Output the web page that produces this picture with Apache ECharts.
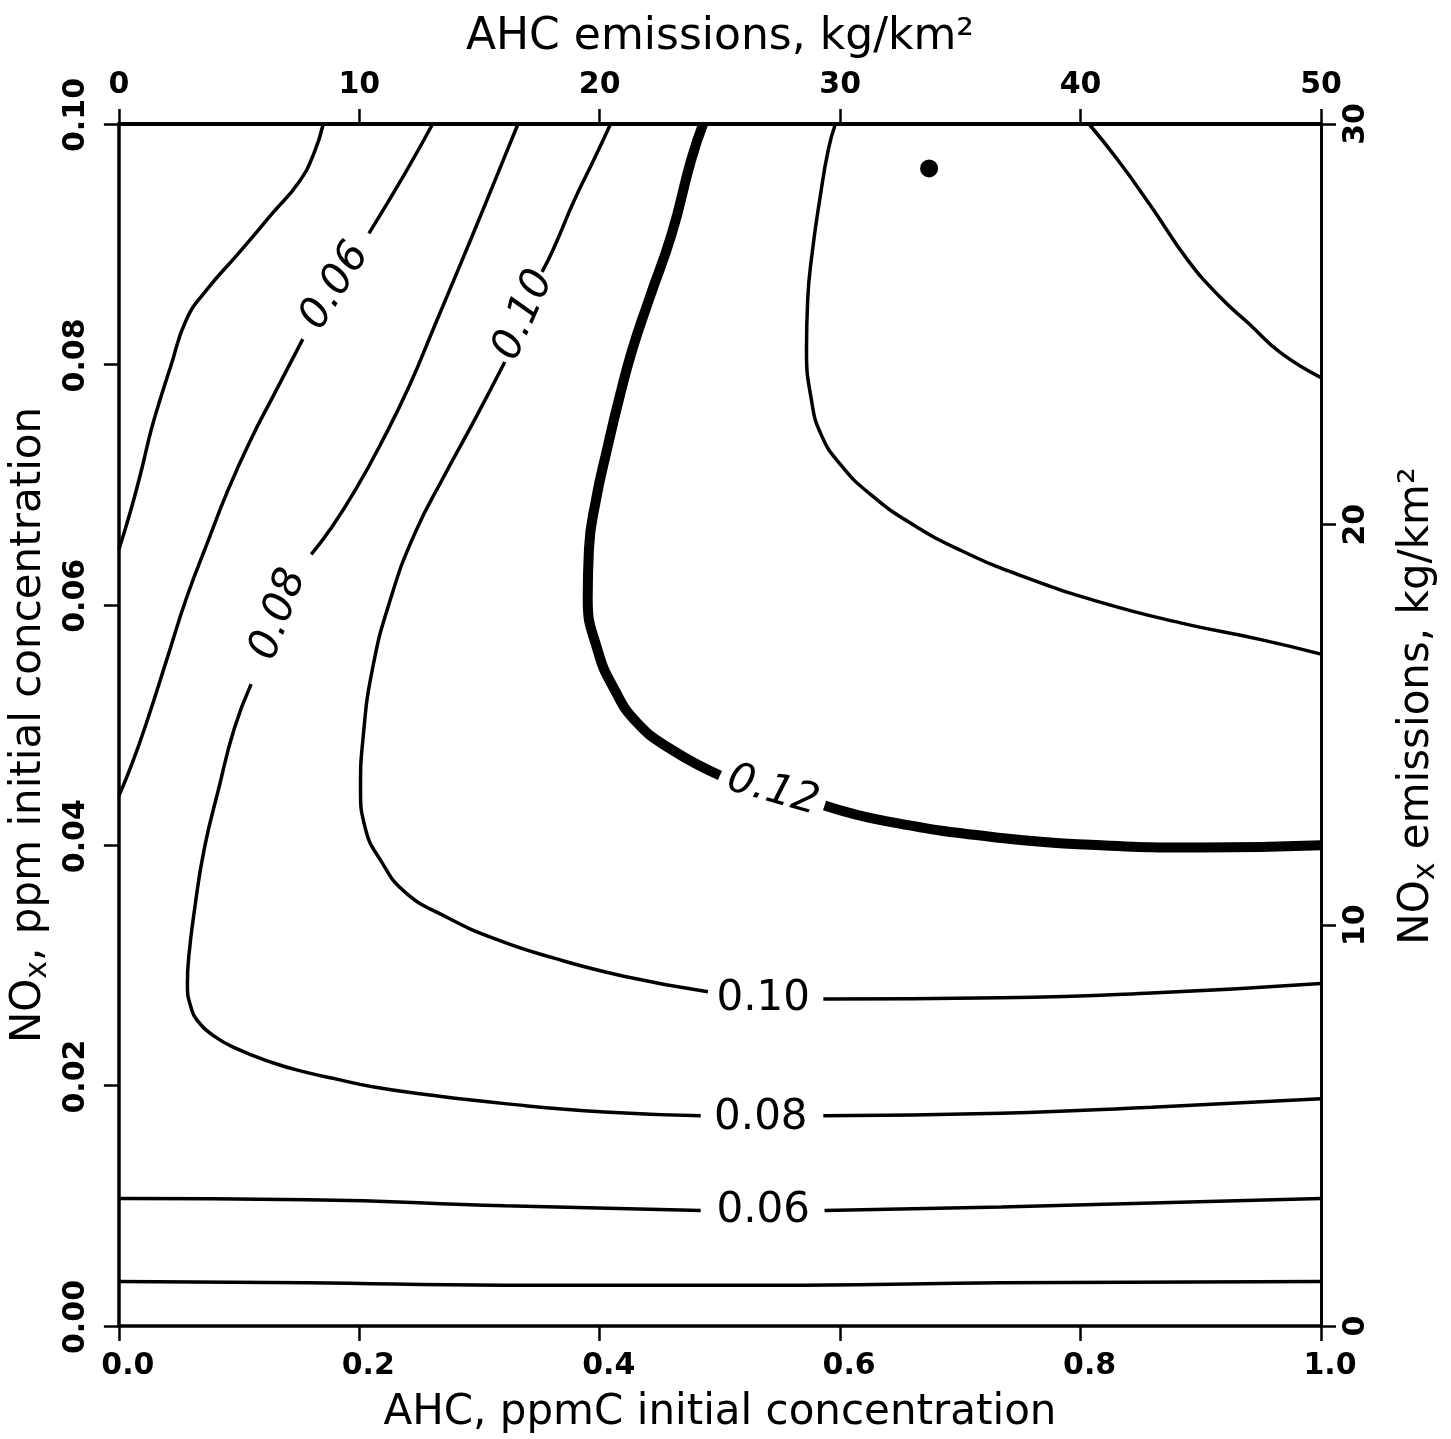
<!DOCTYPE html>
<html>
<head>
<meta charset="utf-8">
<script src="https://cdn.jsdelivr.net/npm/echarts@6/dist/echarts.min.js"></script>
<style>
html,body{margin:0;padding:0;background:#fff;}
#chart{width:1451px;height:1439px;}
</style>
</head>
<body>
<div id="chart"></div>
<script>
// ---- Data (x: AHC ppmC, y: NOx ppm) ----
const xTicksBottom = [0, 0.2, 0.4, 0.6, 0.8, 1.0];
const xTicksTop = [0, 10, 20, 30, 40, 50];
const yTicksLeft = [0, 0.02, 0.04, 0.06, 0.08, 0.10];
const yTicksRight = [0, 10, 20, 30];

// 0.04 isopleth
const c004Upper = [[0.170,0.100],[0.162,0.0975],[0.150,0.0952],[0.128,0.0926],[0.100,0.0893],[0.073,0.0862],[0.056,0.0837],[0.043,0.0798],[0.035,0.0773],[0.027,0.0746],[0.019,0.0713],[0.010,0.0679],[0.000,0.0646]];
const c004Lower = [[0.000,0.0037],[0.156,0.0036],[0.321,0.0034],[0.569,0.0034],[0.734,0.0036],[1.000,0.0037]];
// 0.06 isopleth
const c006UpperA = [[0.261,0.100],[0.238,0.0959],[0.208,0.0909]];
const c006UpperB = [[0.153,0.0821],[0.128,0.0773],[0.110,0.0738],[0.091,0.0696],[0.073,0.0650],[0.056,0.0605],[0.040,0.0555],[0.024,0.0505],[0.011,0.0468],[0.000,0.0441]];
const c006LowerA = [[0.000,0.0106],[0.156,0.0105],[0.321,0.0100],[0.484,0.0096]];
const c006LowerB = [[0.587,0.0096],[0.734,0.0099],[1.000,0.0106]];
// 0.08 isopleth
const c008A = [[0.332,0.100],[0.321,0.0973],[0.303,0.0929],[0.284,0.0883],[0.263,0.0833],[0.242,0.0783],[0.220,0.0738],[0.197,0.0696],[0.176,0.0663],[0.160,0.0642]];
const c008B = [[0.110,0.0534],[0.096,0.0497],[0.083,0.0447],[0.071,0.0397],[0.063,0.0347],[0.058,0.0306],[0.057,0.0285],[0.060,0.0265],[0.067,0.0252],[0.078,0.0242],[0.095,0.0232],[0.128,0.0219],[0.156,0.0211],[0.183,0.0205],[0.211,0.0199],[0.252,0.0193],[0.321,0.0185],[0.404,0.0178],[0.484,0.0175]];
const c008C = [[0.586,0.0175],[0.734,0.0177],[0.859,0.0182],[1.000,0.0189]];
// 0.10 isopleth
const c010A = [[0.409,0.100],[0.395,0.0970],[0.379,0.0937],[0.361,0.0895],[0.352,0.0877]];
const c010B = [[0.321,0.0802],[0.296,0.0754],[0.271,0.0708],[0.246,0.0659],[0.226,0.0605],[0.211,0.0547],[0.203,0.0488],[0.201,0.0447],[0.205,0.0414],[0.218,0.0387],[0.238,0.0361],[0.271,0.0341],[0.313,0.0322],[0.362,0.0306],[0.420,0.0291],[0.490,0.0278]];
const c010C = [[0.586,0.0272],[0.734,0.0273],[0.859,0.0277],[1.000,0.0285]];
// 0.12 isopleth (heavy)
const c012A = [[0.486,0.100],[0.476,0.0970],[0.460,0.0909],[0.441,0.0854],[0.427,0.0812],[0.416,0.0771],[0.406,0.0729],[0.397,0.0688],[0.391,0.0646],[0.390,0.0605],[0.398,0.0563],[0.412,0.0530],[0.431,0.0502],[0.459,0.0480],[0.500,0.0458]];
const c012B = [[0.587,0.0433],[0.638,0.0420],[0.734,0.0406],[0.817,0.0400],[0.900,0.0398],[1.000,0.0400]];
// 0.14 isopleth
const c014 = [[0.596,0.100],[0.590,0.0978],[0.583,0.0937],[0.577,0.0895],[0.573,0.0854],[0.572,0.0812],[0.576,0.0771],[0.584,0.0742],[0.600,0.0717],[0.625,0.0692],[0.660,0.0667],[0.701,0.0645],[0.751,0.0624],[0.817,0.0602],[0.883,0.0585],[0.950,0.0571],[1.000,0.0559]];
// 0.16 isopleth
const c016 = [[0.807,0.100],[0.831,0.0970],[0.859,0.0931],[0.889,0.0887],[0.916,0.0856],[0.941,0.0833],[0.966,0.0810],[1.000,0.0789]];

const dotPoint = [[0.674,0.0963]];

const labelPoints = [
  [0.180,0.0865,'0.06'],
  [0.133,0.0592,'0.08'],
  [0.337,0.0841,'0.10'],
  [0.544,0.0445,'0.12'],
  [0.536,0.0272,'0.10'],
  [0.534,0.0173,'0.08'],
  [0.536,0.0096,'0.06']
];
const labelRotations = [58, 70, 66, -16, 0, 0, 0];
const labelItalic = [true, true, true, true, false, false, false];

// ---- Chart ----
const FONT = 'DejaVu Sans';
const thin = 3.5, heavy = 10;
const segments = [
  [c004Upper, thin],[c004Lower, thin],
  [c006UpperA, thin],[c006UpperB, thin],[c006LowerA, thin],[c006LowerB, thin],
  [c008A, thin],[c008B, thin],[c008C, thin],
  [c010A, thin],[c010B, thin],[c010C, thin],
  [c012A, heavy],[c012B, heavy],
  [c014, thin],[c016, thin]
];

const series = segments.map(([d, w]) => ({
  type: 'line', xAxisIndex: 0, yAxisIndex: 0, data: d,
  showSymbol: false, smooth: 0.5, silent: true,
  lineStyle: {color: '#000', width: w, cap: 'butt', opacity: 1}
}));

series.push({
  type: 'scatter', xAxisIndex: 0, yAxisIndex: 0, data: dotPoint,
  symbolSize: 18, itemStyle: {color: '#000', opacity: 1}, silent: true
});

series.push({
  type: 'scatter', xAxisIndex: 0, yAxisIndex: 0, symbolSize: 0, silent: true,
  itemStyle: {color: '#000', opacity: 1},
  data: labelPoints.map((p, i) => ({
    value: p,
    label: {rotate: labelRotations[i], fontStyle: labelItalic[i] ? 'italic' : 'normal'}
  })),
  label: {
    show: true, position: 'inside', formatter: p => p.value[2],
    fontFamily: FONT, fontSize: 42, color: '#000', opacity: 1
  }
});

const tickLabel = {color: '#000', fontFamily: FONT, fontSize: 30, fontWeight: 'bold'};
const axisLine = {show: true, onZero: false, lineStyle: {color: '#000', width: 3.5}};
const axisTick = {show: true, inside: false, length: 15, lineStyle: {color: '#000', width: 2.5}};
const nameStyle = {color: '#000', fontFamily: FONT, fontSize: 42};

const option = {
  backgroundColor: '#fff',
  animation: false,
  grid: {left: 112, top: 124, right: 130, bottom: 111, containLabel: false},
  xAxis: [
    {
      type: 'value', position: 'bottom', min: xTicksBottom[0], max: xTicksBottom[xTicksBottom.length-1], interval: 0.2,
      axisLine, axisTick, splitLine: {show: false},
      axisLabel: Object.assign({}, tickLabel, {margin: 25, padding: [0,0,0,18], formatter: v => v.toFixed(1)}),
      name: 'AHC, ppmC initial concentration', nameLocation: 'middle', nameGap: 66,
      nameTextStyle: nameStyle
    },
    {
      type: 'value', position: 'top', min: xTicksTop[0], max: xTicksTop[xTicksTop.length-1], interval: 10,
      axisLine: {show: true, onZero: false, lineStyle: {color: '#000', width: 4}}, axisTick, splitLine: {show: false},
      axisLabel: Object.assign({}, tickLabel, {margin: 24}),
      name: 'AHC emissions, kg/km²', nameLocation: 'middle', nameGap: 64,
      nameTextStyle: Object.assign({}, nameStyle, {fontSize: 44})
    }
  ],
  yAxis: [
    {
      type: 'value', position: 'left', min: yTicksLeft[0], max: yTicksLeft[yTicksLeft.length-1], interval: 0.02,
      axisLine, axisTick, splitLine: {show: false},
      axisLabel: Object.assign({}, tickLabel, {rotate: 90, margin: 28, padding: [0,0,0,18], formatter: v => v.toFixed(2)}),
      name: '{a|NO}{s|x}{a|, ppm initial concentration}', nameLocation: 'middle', nameGap: 60, nameRotate: 90,
      nameTextStyle: {color: '#000', fontFamily: FONT, fontSize: 42, rich: {
        a: {fontFamily: FONT, fontSize: 42, color: '#000', lineHeight: 48},
        s: {fontFamily: FONT, fontSize: 30, color: '#000', lineHeight: 26, verticalAlign: 'bottom'}
      }}
    },
    {
      type: 'value', position: 'right', min: yTicksRight[0], max: yTicksRight[yTicksRight.length-1], interval: 10,
      axisLine: {show: true, onZero: false, lineStyle: {color: '#000', width: 3}}, axisTick, splitLine: {show: false},
      axisLabel: Object.assign({}, tickLabel, {rotate: 90, margin: 20}),
      name: '{a|NO}{s|x}{a| emissions, kg/km²}', nameLocation: 'middle', nameGap: 72, nameRotate: 90,
      nameTextStyle: {color: '#000', fontFamily: FONT, fontSize: 42, padding: [0,0,0,38], rich: {
        a: {fontFamily: FONT, fontSize: 42, color: '#000', lineHeight: 48},
        s: {fontFamily: FONT, fontSize: 30, color: '#000', lineHeight: 26, verticalAlign: 'bottom'}
      }}
    }
  ],
  series
};

const chart = echarts.init(document.getElementById('chart'), null, {renderer: 'canvas'});
chart.setOption(option);
</script>
</body>
</html>
